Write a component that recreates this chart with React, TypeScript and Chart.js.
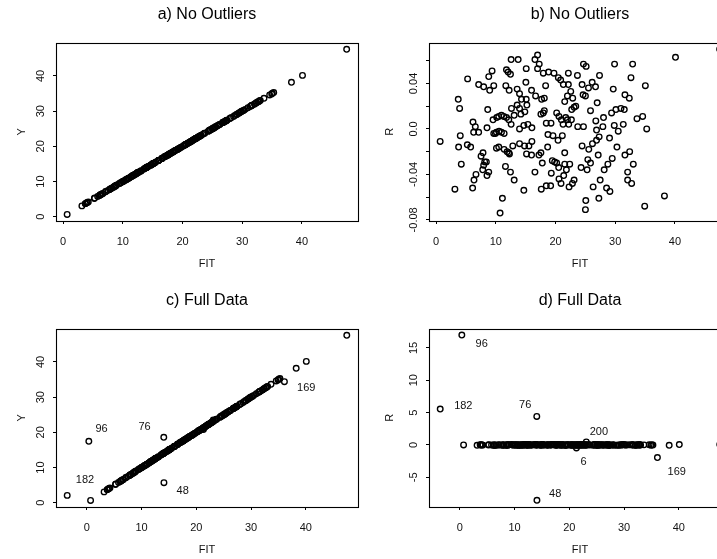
import React, { useEffect, useRef } from 'react';
import { Chart, registerables } from 'chart.js';

Chart.register(...registerables);

const FONT = '"Liberation Sans", Arial, Helvetica, sans-serif';

// Fitted values of the model without outliers
const FIT = [
  0.67, 3.14, 3.70, 3.93, 3.76, 4.04, 4.21, 5.27, 5.22, 5.78,
  6.17, 6.56, 6.28, 7.12, 6.11, 6.34, 6.67, 7.12, 7.96, 7.85,
  7.52, 7.96, 7.80, 8.13, 8.41, 8.52, 8.81, 8.64, 8.52, 8.81,
  8.97, 9.37, 9.65, 9.53, 9.65, 9.93, 10.15, 10.49, 10.94, 11.33,
  11.78, 12.17, 12.56, 10.10, 10.54, 10.94, 11.39, 10.10, 10.49, 11.39,
  11.89, 12.17, 12.28, 11.10, 10.71, 11.61, 12.45, 13.07, 11.78, 12.06,
  12.45, 11.67, 12.23, 12.62, 12.56, 13.74, 13.57, 13.97, 14.30, 13.57,
  13.07, 13.97, 14.19, 14.86, 15.09, 15.20, 15.03, 15.09, 13.97, 14.69,
  15.37, 16.04, 12.84, 13.97, 14.81, 15.54, 15.14, 15.98, 16.04, 14.69,
  16.55, 15.98, 16.66, 16.55, 16.99, 16.99, 17.27, 17.55, 17.95, 18.12,
  17.67, 18.12, 18.34, 17.95, 18.84, 19.74, 20.47, 20.86, 21.31, 18.45,
  19.24, 17.55, 17.22, 17.78, 18.68, 18.73, 19.57, 20.42, 17.61, 18.45,
  19.18, 19.29, 19.46, 19.85, 20.19, 20.53, 20.19, 20.58, 20.98, 21.26,
  21.14, 20.58, 20.92, 21.37, 21.54, 21.54, 21.82, 22.38, 22.27, 22.83,
  23.11, 22.15, 22.15, 22.55, 21.99, 21.54, 22.88, 23.11, 22.71, 23.39,
  21.71, 21.99, 22.66, 22.21, 23.72, 23.67, 24.45, 24.62, 25.01, 24.68,
  25.13, 24.68, 24.45, 24.28, 25.07, 25.01, 25.29, 25.41, 25.86, 25.57,
  25.52, 26.14, 26.70, 25.86, 26.19, 26.30, 26.87, 26.75, 26.87, 26.98,
  27.37, 27.15, 27.31, 27.48, 27.26, 28.04, 27.93, 28.15, 28.55, 28.77,
  29.05, 29.11, 29.39, 29.50, 29.67, 29.89, 29.84, 30.12, 30.29, 30.51,
  30.96, 31.35, 31.52, 31.63, 31.63, 32.08, 32.08, 32.36, 32.42, 32.64,
  32.75, 32.92, 33.03, 33.65, 34.60, 35.05, 34.94, 35.28, 38.25, 40.10,
  47.50,
];

// Observed response
const Y = [
  0.66, 3.09, 3.73, 3.95, 3.74, 4.03, 4.18, 5.31, 5.21, 5.76,
  6.18, 6.56, 6.28, 7.12, 6.06, 6.30, 6.63, 7.16, 8.00, 7.83,
  7.50, 7.93, 7.76, 8.10, 8.38, 8.48, 8.77, 8.66, 8.52, 8.86,
  9.00, 9.42, 9.69, 9.54, 9.65, 9.93, 10.16, 10.50, 10.95, 11.34,
  11.79, 12.18, 12.56, 10.10, 10.54, 10.94, 11.39, 10.08, 10.47, 11.37,
  11.87, 12.15, 12.26, 11.04, 10.64, 11.58, 12.41, 13.03, 11.83, 12.11,
  12.50, 11.71, 12.26, 12.64, 12.62, 13.80, 13.61, 14.00, 14.33, 13.59,
  13.08, 13.99, 14.20, 14.88, 15.12, 15.22, 15.07, 15.14, 13.97, 14.69,
  15.37, 16.04, 12.83, 13.96, 14.80, 15.53, 15.12, 15.96, 16.03, 14.64,
  16.51, 16.01, 16.69, 16.61, 17.06, 17.04, 17.33, 17.56, 17.96, 18.14,
  17.70, 18.15, 18.38, 18.00, 18.89, 19.79, 20.52, 20.90, 21.35, 18.46,
  19.25, 17.53, 17.20, 17.75, 18.66, 18.73, 19.56, 20.41, 17.56, 18.40,
  19.13, 19.25, 19.43, 19.82, 20.16, 20.50, 20.20, 20.59, 20.99, 21.26,
  21.13, 20.54, 20.87, 21.33, 21.52, 21.51, 21.78, 22.35, 22.22, 22.78,
  23.07, 22.20, 22.19, 22.58, 22.02, 21.56, 22.91, 23.13, 22.73, 23.41,
  21.72, 22.00, 22.67, 22.21, 23.72, 23.72, 24.49, 24.65, 25.04, 24.74,
  25.19, 24.68, 24.44, 24.25, 25.01, 24.94, 25.25, 25.38, 25.83, 25.55,
  25.56, 26.18, 26.74, 25.88, 26.18, 26.25, 26.86, 26.76, 26.87, 27.00,
  27.42, 27.13, 27.30, 27.44, 27.20, 28.05, 27.93, 28.11, 28.50, 28.74,
  29.04, 29.06, 29.40, 29.47, 29.71, 29.95, 29.84, 30.14, 30.27, 30.51,
  30.98, 31.35, 31.54, 31.66, 31.61, 32.04, 32.04, 32.39, 32.40, 32.69,
  32.70, 32.98, 33.00, 33.66, 34.61, 35.09, 34.87, 35.28, 38.19, 40.16,
  47.57,
];

// Residuals of the model without outliers
const RES = [
  -0.011, -0.053, 0.026, 0.018, -0.016, -0.006, -0.031, 0.044, -0.014, -0.016,
  0.006, 0.002, -0.003, -0.003, -0.052, -0.045, -0.040, 0.039, 0.037, -0.021,
  -0.024, -0.032, -0.036, -0.029, -0.029, -0.041, -0.038, 0.017, 0.001, 0.046,
  0.034, 0.051, 0.038, 0.008, -0.004, -0.004, 0.010, 0.011, 0.012, 0.011,
  0.010, 0.008, 0.004, -0.003, -0.002, -0.003, -0.004, -0.017, -0.016, -0.018,
  -0.020, -0.021, -0.022, -0.061, -0.074, -0.033, -0.038, -0.045, 0.052, 0.050,
  0.048, 0.038, 0.034, 0.018, 0.061, 0.061, 0.035, 0.031, 0.026, 0.021,
  0.012, 0.018, 0.013, 0.015, 0.026, 0.021, 0.041, 0.053, 0.000, 0.003,
  0.004, 0.001, -0.015, -0.013, -0.015, -0.015, -0.022, -0.023, -0.011, -0.054,
  -0.038, 0.034, 0.029, 0.061, 0.065, 0.053, 0.057, 0.013, 0.014, 0.016,
  0.026, 0.027, 0.038, 0.049, 0.050, 0.049, 0.045, 0.043, 0.039, 0.005,
  0.005, -0.021, -0.023, -0.030, -0.016, -0.005, -0.006, -0.010, -0.053, -0.050,
  -0.050, -0.039, -0.028, -0.029, -0.030, -0.034, 0.014, 0.011, 0.008, 0.004,
  -0.006, -0.044, -0.048, -0.041, -0.021, -0.031, -0.036, -0.031, -0.051, -0.048,
  -0.045, 0.049, 0.039, 0.033, 0.029, 0.024, 0.027, 0.019, 0.017, 0.020,
  0.010, 0.008, 0.008, 0.004, 0.002, 0.047, 0.039, 0.030, 0.029, 0.057,
  0.055, 0.002, -0.015, -0.034, -0.063, -0.071, -0.036, -0.027, -0.030, -0.018,
  0.036, 0.041, 0.037, 0.016, -0.013, -0.051, -0.010, 0.007, -0.001, 0.023,
  0.047, -0.023, -0.007, -0.045, -0.061, 0.010, 0.002, -0.036, -0.052, -0.031,
  -0.008, -0.055, 0.014, -0.026, 0.035, 0.057, 0.003, 0.017, -0.016, -0.002,
  0.018, 0.004, 0.017, 0.030, -0.023, -0.038, -0.045, 0.027, -0.020, 0.045,
  -0.048, 0.057, -0.031, 0.009, 0.011, 0.038, -0.068, 0.000, -0.059, 0.063,
  0.070,
];

// Unusual observations present only in the full data set
const OUT_ID = ['182', '96', '76', '48', '169', '200', '6'];
const OUT_FIT = [-3.6, 0.35, 14.05, 14.08, 36.1, 23.1, 21.3];
const OUT_Y = [2.1, 17.45, 18.6, 5.7, 34.4, 23.55, 20.8];
const OUT_RES = [5.55, 16.98, 4.4, -8.57, -1.96, 0.46, -0.47];

// Observation-number labels (data coordinates)
const C_LABEL_ID = ['182', '96', '76', '48', '169'];
const C_LABEL_X = [-0.35, 2.67, 10.53, 17.5, 40.1];
const C_LABEL_Y = [6.45, 21.1, 21.4, 3.3, 32.6];
const D_LABEL_ID = ['96', '182', '76', '48', '169', '200', '6'];
const D_LABEL_X = [3.98, 0.62, 11.93, 17.42, 39.63, 25.39, 22.59];
const D_LABEL_Y = [15.64, 6.02, 6.23, -7.53, -4.19, 2.06, -2.65];

// Axis ticks
const X_TICKS = [0, 10, 20, 30, 40];
const X_TICK_LABELS = ['0', '10', '20', '30', '40'];
const Y_TICKS_AC = [0, 10, 20, 30, 40];
const Y_TICK_LABELS_AC = ['0', '10', '20', '30', '40'];
const Y_TICKS_B = [-0.08, -0.06, -0.04, -0.02, 0, 0.02, 0.04, 0.06];
const Y_TICK_LABELS_B = ['-0.08', '', '-0.04', '', '0.0', '', '0.04', ''];
const Y_TICKS_D = [-5, 0, 5, 10, 15];
const Y_TICK_LABELS_D = ['-5', '0', '5', '10', '15'];

// Axis limits
const X_RANGE_AB = [-1.2, 49.4];
const X_RANGE_CD = [-5.65, 49.55];
const Y_RANGE_AC = [-1.2, 49.5];
const Y_RANGE_B = [-0.081, 0.076];
const Y_RANGE_D = [-9.6, 18.0];

const PANEL_W = 373;
const PANEL_H = 286;

type Pt = { x: number; y: number };
const pts = (xs: number[], ys: number[]): Pt[] => xs.map((x, i) => ({ x, y: ys[i] }));

function measureWidest(labels: string[]) {
  const c = document.createElement('canvas').getContext('2d')!;
  c.font = `11px ${FONT}`;
  return Math.max(...labels.map((l) => c.measureText(l).width));
}

const framePlugin = {
  id: 'frameBox',
  afterDraw(chart: any) {
    const { ctx, chartArea: a } = chart;
    ctx.save();
    ctx.strokeStyle = '#000';
    ctx.lineWidth = 1.1;
    const l = Math.round(a.left) + 0.5;
    const r = Math.round(a.right) + 0.5;
    const t = Math.round(a.top) + 0.5;
    const b = Math.round(a.bottom) + 0.5;
    ctx.strokeRect(l, t, r - l, b - t);
    ctx.restore();
  },
};

function makeLabelPlugin(ids: string[], xs: number[], ys: number[]) {
  return {
    id: 'idLabels',
    afterDatasetsDraw(chart: any) {
      const { ctx, scales } = chart;
      ctx.save();
      ctx.font = `11px ${FONT}`;
      ctx.fillStyle = '#111';
      ctx.textAlign = 'center';
      ctx.textBaseline = 'middle';
      ids.forEach((t, i) => {
        ctx.fillText(t, scales.x.getPixelForValue(xs[i]), scales.y.getPixelForValue(ys[i]));
      });
      ctx.restore();
    },
  };
}

type PanelSpec = {
  title: string;
  yTitle: string;
  yTitleOffset: number;
  xRange: number[];
  yRange: number[];
  yTicks: number[];
  yTickLabels: string[];
  points: Pt[];
  labels?: { ids: string[]; xs: number[]; ys: number[] };
};

function buildConfig(spec: PanelSpec): any {
  const grid = {
    display: true,
    drawOnChartArea: false,
    drawTicks: true,
    tickLength: 3,
    color: '#000',
    lineWidth: 1,
  };
  const tickFont = { family: FONT, size: 11 };
  const yPad = 11.7 - measureWidest(spec.yTickLabels) / 2;
  const plugins: any[] = [framePlugin];
  if (spec.labels) plugins.push(makeLabelPlugin(spec.labels.ids, spec.labels.xs, spec.labels.ys));
  return {
    type: 'scatter',
    data: {
      datasets: [
        {
          data: spec.points,
          showLine: false,
          pointStyle: 'circle',
          pointRadius: 2.8,
          pointHoverRadius: 2.8,
          pointBorderWidth: 1.35,
          pointBorderColor: '#000',
          pointBackgroundColor: 'rgba(0,0,0,0)',
        },
      ],
    },
    plugins,
    options: {
      animation: false,
      responsive: false,
      events: [],
      layout: { padding: { left: 0, right: 15, top: 0, bottom: 7 } },
      plugins: {
        legend: { display: false },
        tooltip: { enabled: false },
        title: {
          display: true,
          text: spec.title,
          fullSize: false,
          color: '#000',
          font: { family: FONT, size: 16, weight: 'normal', lineHeight: 1.2 },
          padding: { top: 5.4, bottom: 17.9 },
        },
      },
      scales: {
        x: {
          type: 'linear',
          position: 'bottom',
          bounds: 'data',
          min: spec.xRange[0],
          max: spec.xRange[1],
          afterBuildTicks: (s: any) => {
            s.ticks = X_TICKS.map((v) => ({ value: v }));
          },
          afterFit: (s: any) => {
            s.height = 58;
          },
          grid,
          border: { display: false },
          ticks: {
            autoSkip: false,
            maxRotation: 0,
            minRotation: 0,
            padding: 10.9,
            color: '#111',
            font: tickFont,
            callback: (_v: any, i: number) => X_TICK_LABELS[i],
          },
          title: {
            display: true,
            text: 'FIT',
            color: '#111',
            font: { family: FONT, size: 11 },
            padding: { top: 0, bottom: 8.4 },
          },
        },
        y: {
          type: 'linear',
          position: 'left',
          bounds: 'data',
          min: spec.yRange[0],
          max: spec.yRange[1],
          afterBuildTicks: (s: any) => {
            s.ticks = spec.yTicks.map((v) => ({ value: v }));
          },
          afterFit: (s: any) => {
            s.width = 56;
          },
          grid,
          border: { display: false },
          ticks: {
            autoSkip: false,
            minRotation: 90,
            maxRotation: 90,
            crossAlign: 'center',
            padding: yPad,
            color: '#111',
            font: tickFont,
            callback: (_v: any, i: number) => spec.yTickLabels[i],
          },
          title: {
            display: true,
            text: spec.yTitle,
            color: '#111',
            font: { family: FONT, size: 11 },
            padding: { top: spec.yTitleOffset - 6.6, bottom: 0 },
          },
        },
      },
    },
  };
}

function Panel({ spec, left, top }: { spec: PanelSpec; left: number; top: number }) {
  const ref = useRef<HTMLCanvasElement>(null);
  useEffect(() => {
    const chart = new Chart(ref.current!, buildConfig(spec));
    return () => chart.destroy();
  }, []);
  return (
    <canvas
      ref={ref}
      width={PANEL_W}
      height={PANEL_H}
      style={{ position: 'absolute', left, top, width: PANEL_W, height: PANEL_H }}
    />
  );
}

const panelA: PanelSpec = {
  title: 'a) No Outliers',
  yTitle: 'Y',
  yTitleOffset: 21.5,
  xRange: X_RANGE_AB,
  yRange: Y_RANGE_AC,
  yTicks: Y_TICKS_AC,
  yTickLabels: Y_TICK_LABELS_AC,
  points: pts(FIT, Y),
};

const panelB: PanelSpec = {
  title: 'b) No Outliers',
  yTitle: 'R',
  yTitleOffset: 16.7,
  xRange: X_RANGE_AB,
  yRange: Y_RANGE_B,
  yTicks: Y_TICKS_B,
  yTickLabels: Y_TICK_LABELS_B,
  points: pts(FIT, RES),
};

const panelC: PanelSpec = {
  title: 'c) Full Data',
  yTitle: 'Y',
  yTitleOffset: 21.5,
  xRange: X_RANGE_CD,
  yRange: Y_RANGE_AC,
  yTicks: Y_TICKS_AC,
  yTickLabels: Y_TICK_LABELS_AC,
  points: [...pts(FIT, Y), ...pts(OUT_FIT, OUT_Y)],
  labels: { ids: C_LABEL_ID, xs: C_LABEL_X, ys: C_LABEL_Y },
};

const panelD: PanelSpec = {
  title: 'd) Full Data',
  yTitle: 'R',
  yTitleOffset: 16.7,
  xRange: X_RANGE_CD,
  yRange: Y_RANGE_D,
  yTicks: Y_TICKS_D,
  yTickLabels: Y_TICK_LABELS_D,
  points: [...pts(FIT, RES), ...pts(OUT_FIT, OUT_RES)],
  labels: { ids: D_LABEL_ID, xs: D_LABEL_X, ys: D_LABEL_Y },
};

export default function App() {
  void OUT_ID;
  return (
    <div
      style={{
        position: 'fixed',
        left: 0,
        top: 0,
        width: 717,
        height: 559,
        overflow: 'hidden',
        background: '#fff',
      }}
    >
      <Panel spec={panelA} left={0} top={0} />
      <Panel spec={panelB} left={PANEL_W} top={0} />
      <Panel spec={panelC} left={0} top={PANEL_H} />
      <Panel spec={panelD} left={PANEL_W} top={PANEL_H} />
    </div>
  );
}
